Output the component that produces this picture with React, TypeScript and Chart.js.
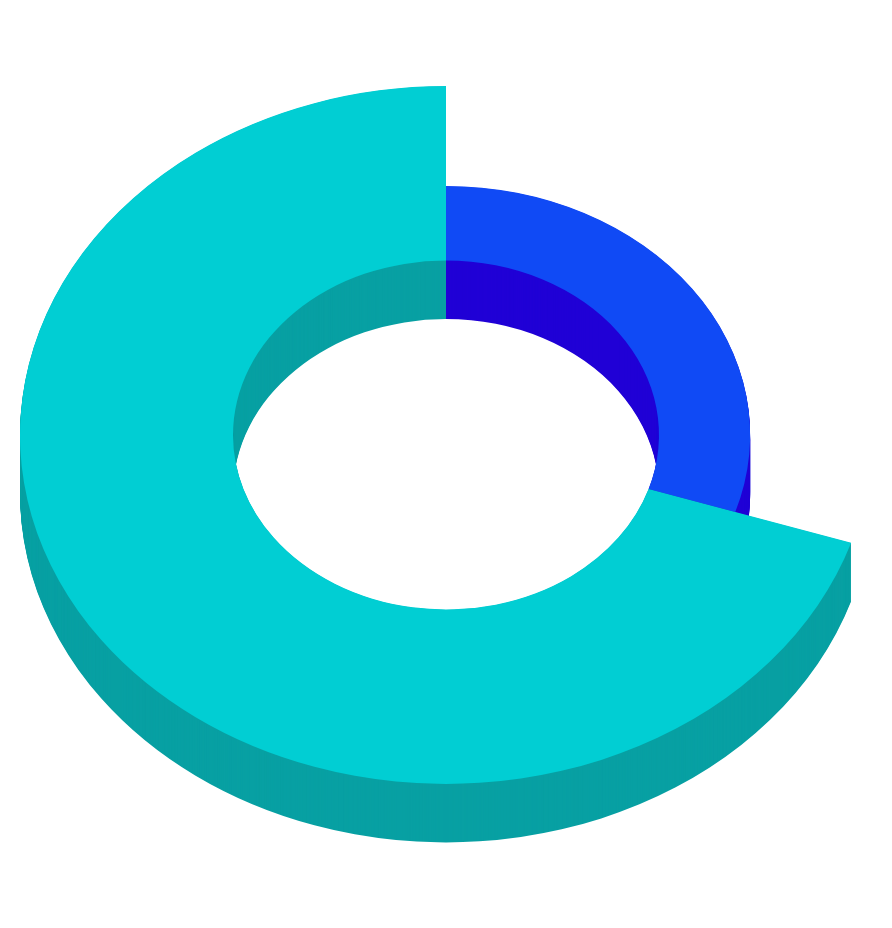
import React, { useEffect, useRef } from "react";
import { Chart, registerables } from "chart.js";

Chart.register(...registerables);

const categories = ["A", "B"];
const sliceValues = [30, 70];
const sliceHeights = [71.4, 100];
const topColors = ["#104AF5", "#01CED3"];
const wallColors = ["#2000D6", "#08A0A3"];

const WIDTH = 892;
const HEIGHT = 928;
const DEPTH = 58;
const TILT = 0.819;

function applyTilt(ctx: CanvasRenderingContext2D, cx: number, cy: number, shift: number) {
  ctx.translate(cx, cy + shift);
  ctx.scale(1, TILT);
  ctx.translate(-cx, -cy);
}

const tiltedRing = {
  id: "tiltedRing",
  afterDatasetsUpdate(chart: any) {
    const arcs = chart.getDatasetMeta(0).data;
    arcs.forEach((arc: any, i: number) => {
      arc.outerRadius = (arc.outerRadius * sliceHeights[i]) / 100;
    });
  },
  beforeDatasetDraw(chart: any) {
    const ctx = chart.ctx as CanvasRenderingContext2D;
    const arcs = chart.getDatasetMeta(0).data;
    const { x: cx, y: cy } = arcs[0];
    arcs.forEach((arc: any, i: number) => {
      const saved = arc.options;
      arc.options = Object.create(saved, {
        backgroundColor: { value: wallColors[i] },
      });
      for (let d = DEPTH + 0.5; d > 0; d -= 1) {
        ctx.save();
        applyTilt(ctx, cx, cy, d);
        arc.draw(ctx);
        ctx.restore();
      }
      arc.options = saved;
    });
    ctx.save();
    applyTilt(ctx, cx, cy, 0);
  },
  afterDatasetDraw(chart: any) {
    chart.ctx.restore();
  },
};

export default function App() {
  const ref = useRef<HTMLCanvasElement>(null);
  useEffect(() => {
    const chart = new Chart(ref.current!, {
      type: "doughnut",
      data: {
        labels: categories,
        datasets: [
          {
            data: sliceValues,
            backgroundColor: topColors,
            borderWidth: 0,
          },
        ],
      },
      options: {
        animation: false,
        responsive: false,
        events: [],
        radius: 426,
        cutout: "50%",
        layout: { padding: { bottom: DEPTH } },
        plugins: {
          legend: { display: false },
          tooltip: { enabled: false },
        },
      },
      plugins: [tiltedRing],
    } as any);
    return () => chart.destroy();
  }, []);
  return (
    <div style={{ position: "absolute", left: 0, top: 0, width: WIDTH, height: HEIGHT, background: "#fff" }}>
      <canvas ref={ref} width={WIDTH} height={HEIGHT} style={{ display: "block" }} />
    </div>
  );
}
